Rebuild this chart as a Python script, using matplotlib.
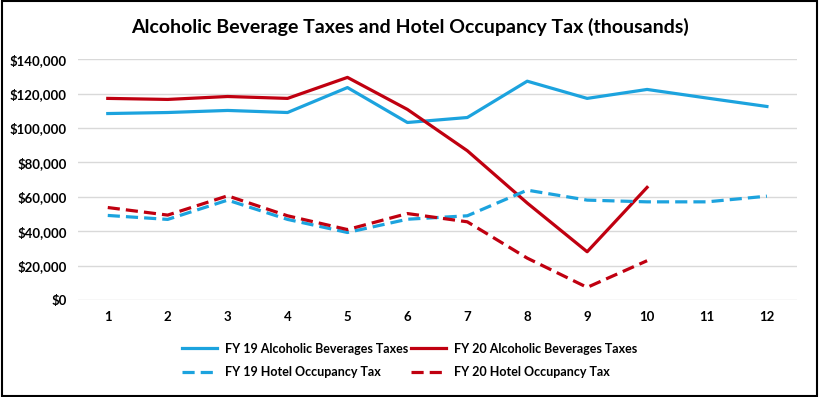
"""
Alcoholic beverage taxes vs hotel occupancy tax, FY19 vs FY20 (thousands).
Writes out.png.
"""
import matplotlib.pyplot as plt
from matplotlib.patches import Rectangle
from matplotlib.ticker import FuncFormatter

plt.rcParams["font.family"] = ["Lato", "DejaVu Sans"]

# ----------------------------------------------------------------------
# Data
# ----------------------------------------------------------------------
months = list(range(1, 13))
months_fy20 = list(range(1, 11))

fy19_alcohol = [108400, 109000, 110200, 109000, 123500, 103200,
                106100, 127200, 117200, 122400, 117400, 112500]
fy20_alcohol = [117200, 116600, 118300, 117200, 129400, 110800,
                86800, 56400, 28100, 65500]
fy19_hotel = [49200, 46900, 58100, 46900, 39300, 47000,
              49000, 63900, 58100, 57100, 57100, 60400]
fy20_hotel = [53800, 49400, 60600, 49000, 41000, 50300,
              45500, 24400, 7400, 22900]

BLUE = "#1CA3DE"
RED = "#C00010"
DASH = (0, (3.8, 1.9))

# ----------------------------------------------------------------------
# Plot
# ----------------------------------------------------------------------
fig = plt.figure(figsize=(8.19, 3.97), dpi=100)
ax = fig.add_axes([0.095, 0.244, 0.878, 0.607])

h19a, = ax.plot(months, fy19_alcohol, color=BLUE, lw=2.3,
                label="FY 19 Alcoholic Beverages Taxes")
h20a, = ax.plot(months_fy20, fy20_alcohol, color=RED, lw=2.3,
                label="FY 20 Alcoholic Beverages Taxes")
h19h, = ax.plot(months, fy19_hotel, color=BLUE, lw=2.3, ls=DASH,
                label="FY 19 Hotel Occupancy Tax")
h20h, = ax.plot(months_fy20, fy20_hotel, color=RED, lw=2.3, ls=DASH,
                label="FY 20 Hotel Occupancy Tax")

ax.set_xlim(0.5, 12.5)
ax.set_ylim(0, 140000)
ax.set_xticks(months)
ax.set_yticks(range(0, 140001, 20000))
ax.yaxis.set_major_formatter(FuncFormatter(lambda v, _: f"${v:,.0f}"))
ax.tick_params(length=0, labelsize=9.5, pad=8)
for lab in ax.get_xticklabels() + ax.get_yticklabels():
    lab.set_fontweight("bold")

ax.grid(axis="y", color="#D9D9D9", lw=1)
ax.set_axisbelow(True)
for s in ax.spines.values():
    s.set_visible(False)

fig.suptitle("Alcoholic Beverage Taxes and Hotel Occupancy Tax (thousands)",
             x=0.5, y=0.955, fontsize=14, fontweight="bold")

# legend fills column-wise, so order handles to get row 1 = alcohol
handles = [h19a, h19h, h20a, h20h]
leg = fig.legend(handles, [h.get_label() for h in handles],
                 loc="center", bbox_to_anchor=(0.5, 0.092), ncol=2,
                 frameon=False, fontsize=9, handlelength=2.8,
                 columnspacing=0.25, handletextpad=0.6, labelspacing=0.9)
for t in leg.get_texts():
    t.set_fontweight("bold")

# black border round the whole figure
fig.patches.append(Rectangle((0.002, 0.003), 0.996, 0.994,
                             transform=fig.transFigure, fill=False,
                             edgecolor="black", lw=1.5))

fig.savefig("out.png", dpi=100)
